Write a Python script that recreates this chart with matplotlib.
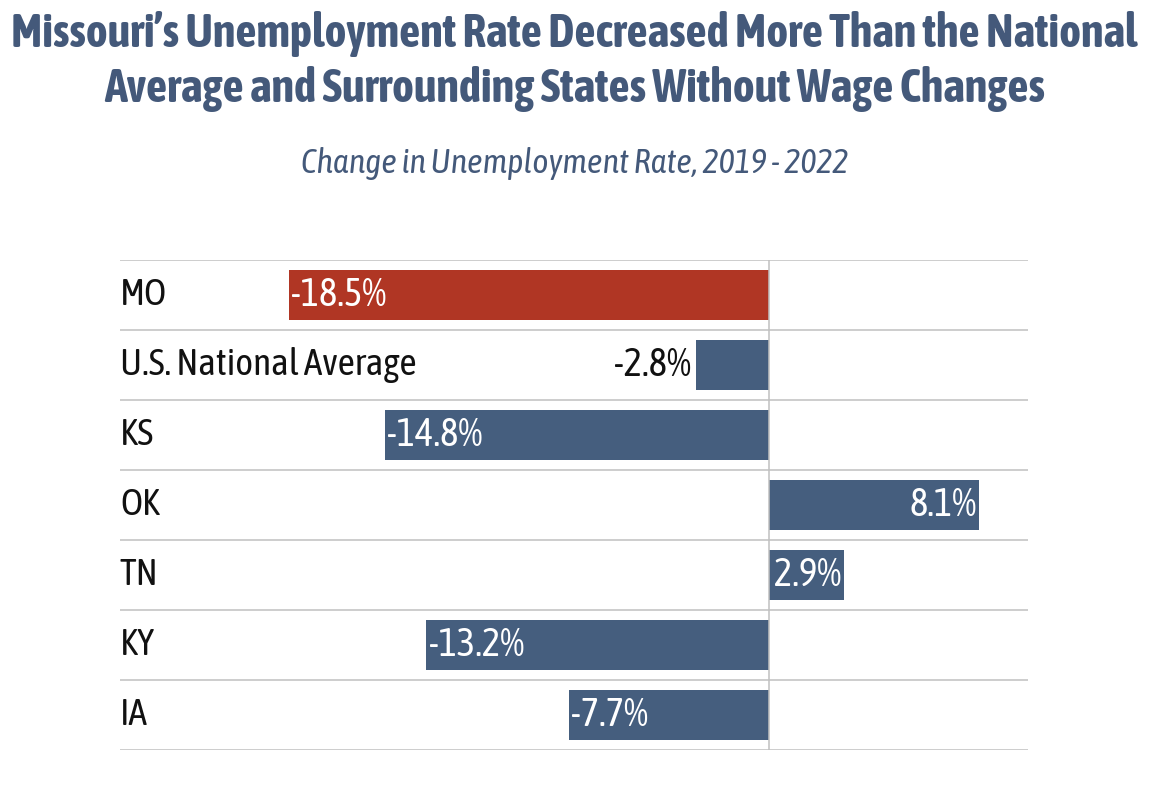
import matplotlib
matplotlib.use("Agg")
import matplotlib.pyplot as plt

categories = ["MO", "U.S. National Average", "KS", "OK", "TN", "KY", "IA"]
values = [-18.5, -2.8, -14.8, 8.1, 2.9, -13.2, -7.7]
bar_colors = ["#b03624", "#455e7e", "#455e7e", "#455e7e", "#455e7e", "#455e7e", "#455e7e"]

title_lines = ["Missouri\u2019s Unemployment Rate Decreased More Than the National",
               "Average and Surrounding States Without Wage Changes"]
subtitle = "Change in Unemployment Rate, 2019 - 2022"

FAM = ["Asap Condensed", "Barlow Semi Condensed", "DejaVu Sans"]
plt.rcParams['font.family'] = FAM

W, H = 1149, 811
fig = plt.figure(figsize=(W / 100, H / 100), dpi=100)
ax = fig.add_axes([120 / W, 1 - 750 / H, (1028 - 120) / W, (750 - 260) / H])

ypos = list(range(len(categories)))
ax.barh(ypos, values, height=0.714, color=bar_colors, zorder=2)
ax.set_xlim(-25, 10)
ax.set_ylim(len(categories) - 0.5, -0.5)

grid_c = "#c0c0c0"
for b in range(len(categories) + 1):
    ax.axhline(b - 0.5, color=grid_c, lw=1.1, zorder=1)
ax.axvline(0, color=grid_c, lw=1.1, zorder=3)

for s in ax.spines.values():
    s.set_visible(False)
ax.set_xticks([])
ax.set_yticks([])

fs_cat = 27
fs_val = 28
for i, (c, v) in enumerate(zip(categories, values)):
    ax.text(0.0, i, c, transform=ax.get_yaxis_transform(), ha="left", va="center",
            fontsize=fs_cat, color="#111111")
    lbl = f"{v:.1f}%"
    if v < 0:
        if abs(v) >= 3:
            ax.text(v + 0.1, i, lbl, ha="left", va="center", fontsize=fs_val, color="white", zorder=4)
        else:
            ax.text(v - 0.2, i, lbl, ha="right", va="center", fontsize=fs_val, color="#111111", zorder=4)
    else:
        ax.text(v - 0.08, i, lbl, ha="right", va="center", fontsize=fs_val, color="white", zorder=4)

tcol = "#44597a"
fig.text(0.5, 1 - 47 / H, title_lines[0], ha="center", va="baseline", fontsize=33.5,
         fontweight="bold", color=tcol)
fig.text(0.5, 1 - 102 / H, title_lines[1], ha="center", va="baseline", fontsize=33.5,
         fontweight="bold", color=tcol)
fig.text(0.5, 1 - 173 / H, subtitle, ha="center", va="baseline", fontsize=24.6,
         fontstyle="italic", color=tcol)

fig.savefig("out.png", dpi=100)
